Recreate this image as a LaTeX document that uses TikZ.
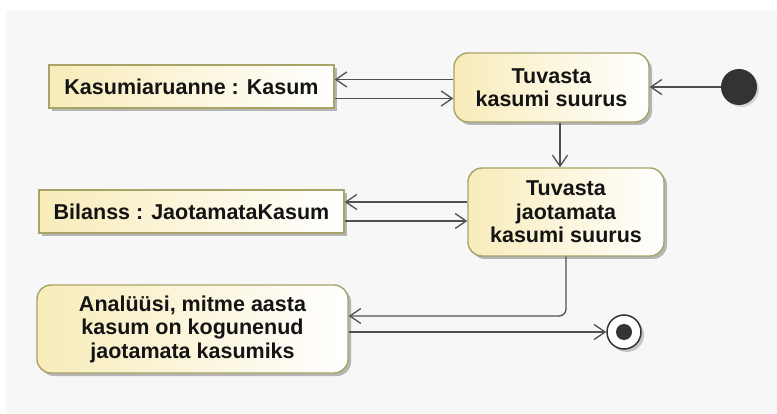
\documentclass[tikz,border=0pt]{standalone}
\usepackage{fontspec}
\setmainfont{Liberation Sans}
\usepackage{xcolor}
\definecolor{cBack}{HTML}{F7F7F7}
\definecolor{cFill}{HTML}{F8ECBA}
\definecolor{cEdge}{HTML}{A8A468}
\definecolor{cLine}{HTML}{505050}
\definecolor{cDark}{HTML}{333333}
\definecolor{cText}{HTML}{141414}
\usetikzlibrary{positioning,arrows.meta,shadows}
\tikzset{
  node-base/.style={draw=cEdge,line width=1.4pt,left color=cFill,right color=white,
    align=center,text=cText,inner sep=2pt,
    font=\fontsize{21.5}{23.5}\selectfont\bfseries,
    drop shadow={shadow xshift=3pt,shadow yshift=-3pt,fill=black!40,opacity=.7}},
  node-object/.style={node-base,rectangle,minimum height=43pt},
  node-action/.style={node-base,rectangle,rounded corners=14pt},
  node-init/.style={circle,fill=cDark,minimum size=36pt,inner sep=0pt,
    drop shadow={shadow xshift=2pt,shadow yshift=-2pt,fill=black!30,opacity=.5}},
  node-final/.style={circle,draw=cDark,line width=1.5pt,fill=white,minimum size=34pt,inner sep=0pt,
    path picture={\fill[cDark] (path picture bounding box.center) circle (8pt);},
    drop shadow={shadow xshift=3pt,shadow yshift=-3pt,fill=black!35,opacity=.6}},
  arrow/.style={-{Straight Barb[length=11pt,width=15pt,line width=1.3pt]},line width=1.3pt,draw=cLine},
}
\begin{document}
\begin{tikzpicture}[x=1pt,y=-1pt]
  \useasboundingbox (0,0) rectangle (777,414);
  \fill[cBack] (6,10) rectangle (777,414);
  % actions
  \node[node-action,minimum width=195pt,minimum height=69pt] (tv1) at (551.5,87.5) {Tuvasta\\kasumi suurus};
  \node[node-action,minimum width=196pt,minimum height=88pt] (tv2) at (566,212) {Tuvasta\\jaotamata\\kasumi suurus};
  \node[node-action,minimum width=311pt,minimum height=88pt] (ana) at (192.5,329) {Analüüsi, mitme aasta\\kasum on kogunenud\\jaotamata kasumiks};
  % objects
  \node[node-object,minimum width=285pt] (kar) at (191.5,86.5) {Kasumiaruanne : Kasum};
  \node[node-object,minimum width=305pt] (bil) at (191.5,211.5) {Bilanss : JaotamataKasum};
  % start / end
  \node[node-init]  (init) at (739,87) {};
  \node[node-final] (fin)  at (624,332) {};
  % flows
  \draw[arrow] (init) -- (init -| tv1.east);
  \draw[arrow] ([yshift=8pt]tv1.west) -- ([yshift=8pt]tv1.west -| kar.east);
  \draw[arrow] ([yshift=-11pt]tv1.west -| kar.east) -- ([yshift=-11pt]tv1.west);
  \draw[arrow] ([xshift=8.5pt]tv1.south) -- ([xshift=8.5pt]tv1.south |- tv2.north);
  \draw[arrow] ([yshift=10pt]tv2.west) -- ([yshift=10pt]tv2.west -| bil.east);
  \draw[arrow] ([yshift=-9pt]tv2.west -| bil.east) -- ([yshift=-9pt]tv2.west);
  \draw[arrow,rounded corners=7pt] (tv2.south) |- ([yshift=13pt]ana.east);
  \draw[arrow] ([yshift=-3pt]ana.east) -- (fin.west);
\end{tikzpicture}
\end{document}
